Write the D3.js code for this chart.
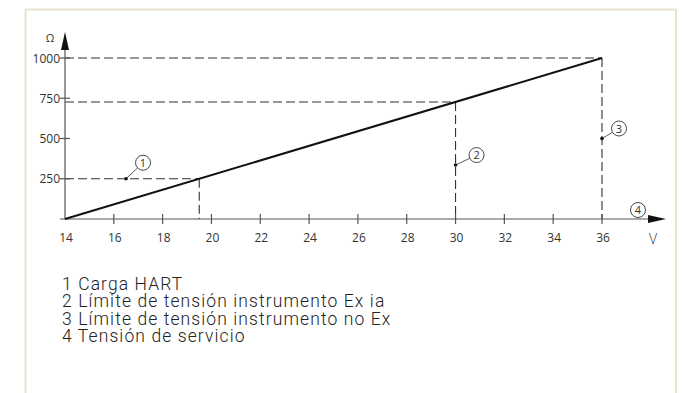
<!DOCTYPE html>
<html>
<head>
<meta charset="utf-8">
<script src="https://cdn.jsdelivr.net/npm/d3@7"></script>
<style>
  body { margin: 0; background: #fff; }
  svg { display: block; font-family: "Open Sans", "Liberation Sans", Arial, sans-serif; }
  .legend text { font-family: Roboto, "Liberation Sans", Arial, sans-serif; }
</style>
</head>
<body>
<div id="chart"></div>
<script>
// supply voltage (V) vs. max load (ohm)
const voltage = [14, 36];
const load = [0, 1000];
const xTicks = [14, 16, 18, 20, 22, 24, 26, 28, 30, 32, 34, 36];
const yTicks = [250, 500, 750, 1000];
// where the dashed guides meet the line
const limitV = [19.5, 30, 36];
const limitR = [250, 727, 1000];
// callout markers
const calloutLabels = ['1', '2', '3'];
const calloutV = [16.5, 30, 36];
const calloutR = [250, 335, 500];
const legendItems = [
  '1 Carga HART',
  '2 Límite de tensión instrumento Ex ia',
  '3 Límite de tensión instrumento no Ex',
  '4 Tensión de servicio'
];

const width = 687;
const height = 393;

const svg = d3.select('#chart')
  .append('svg')
  .attr('width', width)
  .attr('height', height);

// frame
svg.append('path')
  .attr('d', 'M25.5,393 V9.5 H676 V393')
  .attr('fill', 'none')
  .attr('stroke', '#e8e4cc')
  .attr('stroke-width', 2);

const xScale = d3.scaleLinear().domain([14, 36]).range([65, 602]);
const yScale = d3.scaleLinear().domain([0, 1000]).range([219, 58]);

const ink = '#333';

// dashed guides
const guides = svg.append('g')
  .attr('stroke', ink)
  .attr('stroke-width', 1.1)
  .attr('stroke-dasharray', '9,4')
  .attr('fill', 'none');

limitV.forEach((v, i) => {
  guides.append('line')
    .attr('x1', xScale(14)).attr('x2', xScale(v))
    .attr('y1', yScale(limitR[i])).attr('y2', yScale(limitR[i]));
  guides.append('line')
    .attr('x1', xScale(v)).attr('x2', xScale(v))
    .attr('y1', yScale(limitR[i])).attr('y2', yScale(0));
});

// x axis
const xAxis = svg.append('g');
xAxis.append('line')
  .attr('x1', 60).attr('x2', 650)
  .attr('y1', yScale(0)).attr('y2', yScale(0))
  .attr('stroke', '#555').attr('stroke-width', 1.2);
xAxis.append('path')
  .attr('d', `M648,${yScale(0) - 4} L666,${yScale(0)} L648,${yScale(0) + 4} Z`)
  .attr('fill', '#111');
xAxis.selectAll('.tick')
  .data(xTicks.slice(1))
  .join('line')
  .attr('x1', (d) => xScale(d)).attr('x2', (d) => xScale(d))
  .attr('y1', yScale(0) - 5).attr('y2', yScale(0) + 5)
  .attr('stroke', '#555').attr('stroke-width', 1.2);
xAxis.selectAll('text')
  .data(xTicks)
  .join('text')
  .attr('x', (d) => xScale(d) + 1)
  .attr('y', yScale(0) + 23)
  .attr('text-anchor', 'middle')
  .attr('font-size', 12)
  .attr('fill', ink)
  .text((d) => d);
xAxis.append('text')
  .attr('x', 653).attr('y', yScale(0) + 25)
  .attr('text-anchor', 'middle')
  .attr('font-size', 14)
  .attr('font-weight', 300)
  .attr('fill', ink)
  .text('V');

// y axis
const yAxis = svg.append('g');
yAxis.append('line')
  .attr('x1', xScale(14)).attr('x2', xScale(14))
  .attr('y1', yScale(0)).attr('y2', 48)
  .attr('stroke', '#555').attr('stroke-width', 1.2);
yAxis.append('path')
  .attr('d', `M${xScale(14) - 4},50 L${xScale(14)},32 L${xScale(14) + 4},50 Z`)
  .attr('fill', '#111');
yAxis.selectAll('line.tick')
  .data(yTicks)
  .join('line')
  .attr('class', 'tick')
  .attr('x1', xScale(14) - 5).attr('x2', xScale(14) + 5)
  .attr('y1', (d) => yScale(d)).attr('y2', (d) => yScale(d))
  .attr('stroke', '#555').attr('stroke-width', 1.2);
yAxis.selectAll('text')
  .data(yTicks)
  .join('text')
  .attr('x', xScale(14) - 5)
  .attr('y', (d) => yScale(d) + 4.5)
  .attr('text-anchor', 'end')
  .attr('font-size', 12)
  .attr('fill', ink)
  .text((d) => d);
yAxis.append('text')
  .attr('x', 50).attr('y', 42)
  .attr('text-anchor', 'middle')
  .attr('font-size', 11)
  .attr('fill', ink)
  .text('Ω');

// load line
svg.append('line')
  .attr('x1', xScale(voltage[0])).attr('y1', yScale(load[0]))
  .attr('x2', xScale(voltage[1])).attr('y2', yScale(load[1]))
  .attr('stroke', '#111')
  .attr('stroke-width', 2);

// callouts
function callout(x, y, dx, dy, label, withDot) {
  const g = svg.append('g');
  const r = 7.5;
  const cx = x + dx;
  const cy = y + dy;
  if (withDot) {
    const ang = Math.atan2(cy - y, cx - x);
    g.append('line')
      .attr('x1', x).attr('y1', y)
      .attr('x2', cx - r * Math.cos(ang)).attr('y2', cy - r * Math.sin(ang))
      .attr('stroke', ink).attr('stroke-width', 0.8);
    g.append('circle').attr('cx', x).attr('cy', y).attr('r', 1.8).attr('fill', '#111');
  }
  g.append('circle')
    .attr('cx', cx).attr('cy', cy).attr('r', r)
    .attr('fill', '#fff').attr('stroke', ink).attr('stroke-width', 0.9);
  g.append('text')
    .attr('x', cx).attr('y', cy + 4)
    .attr('text-anchor', 'middle')
    .attr('font-size', 11)
    .attr('fill', ink)
    .text(label);
}

const offsets = [[17, -16], [21, -10], [17, -10]];
calloutLabels.forEach((lab, i) => {
  callout(xScale(calloutV[i]), yScale(calloutR[i]), offsets[i][0], offsets[i][1], lab, true);
});
callout(638, 210, 0, 0, '4', false);

// legend
svg.append('g')
  .attr('class', 'legend')
  .selectAll('text')
  .data(legendItems)
  .join('text')
  .attr('x', 62)
  .attr('y', (d, i) => 289.5 + i * 17.6)
  .attr('font-size', 17.5)
  .attr('font-weight', 300)
  .attr('letter-spacing', 1.1)
  .attr('fill', '#222')
  .text((d) => d);
</script>
</body>
</html>
